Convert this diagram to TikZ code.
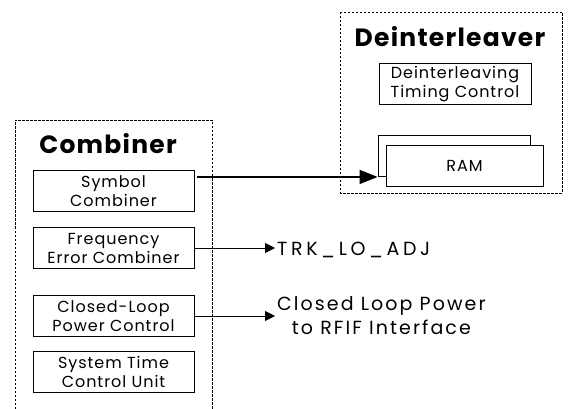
\documentclass[tikz,border=0pt]{standalone}
\usepackage{fontspec}
\setmainfont{Poppins}
\usetikzlibrary{arrows.meta}
\begin{document}
\begin{tikzpicture}[x=1pt,y=-1pt,
	box/.style={dash pattern=on 2.5pt off 1.5pt,line width=.8pt},
	title/.style={font=\bfseries\fontsize{25}{28}\selectfont\addfontfeature{LetterSpace=5}},
	unit/.style={draw,line width=.9pt,minimum width=161pt,minimum height=41pt,inner sep=0pt,align=center,
		font=\fontsize{16}{19}\selectfont\addfontfeature{LetterSpace=6}},
	sig/.style={inner sep=2pt,font=\fontsize{19}{24}\selectfont\addfontfeature{LetterSpace=11}},
	bus/.style={line width=1.6pt,-{Triangle[length=18pt,width=14pt]}},
	link/.style={line width=.8pt,-{Triangle[length=10pt,width=10pt]}}]
		\useasboundingbox (0,0) rectangle (568,409);
		\draw [box] (15,409) -- (15,120) -- (212,120) -- (212,409);
		\node [title] (comb) at (108,144) {Combiner};
		\node [unit] (sym) at (113.5,191) {Symbol\\Combiner};
		\node [unit] (freq) at (113.5,248) {Frequency\\Error Combiner};
		\node [unit] (clpc) at (113.5,316) {Closed-Loop\\Power Control};
		\node [unit] (stcu) at (113.5,372) {System Time\\Control Unit};
		\draw [box] (340,12) rectangle (562,193);
		\node [title] (dint) at (450,37) {Deinterleaver};
		\node [unit,minimum width=152pt] (dtc) at (455,84) {Deinterleaving\\Timing Control};
		\node [unit,minimum width=152pt] (ramb) at (454,156) {};
		\node [unit,minimum width=157pt,fill=white] (ram) at (464.5,166) {RAM};
		\node [sig,anchor=west,font=\fontsize{19}{24}\selectfont\addfontfeature{LetterSpace=19}] (trk) at (275,250) {TRK\_LO\_ADJ};
		\node [sig,anchor=west,align=center] (clp) at (275,316) {Closed Loop Power\\to RFIF Interface};
		\draw [bus] ([xshift=3pt]sym.east |- ramb.south west) -- (ramb.south west);
		\draw [line width=.9pt] (ramb.south west) -- (ram.west |- ramb.south west);
		\draw [link] (freq.east) -- (freq.east -| trk.west);
		\draw [link] (clpc.east) -- (clpc.east -| clp.west);
	\end{tikzpicture}
\end{document}
